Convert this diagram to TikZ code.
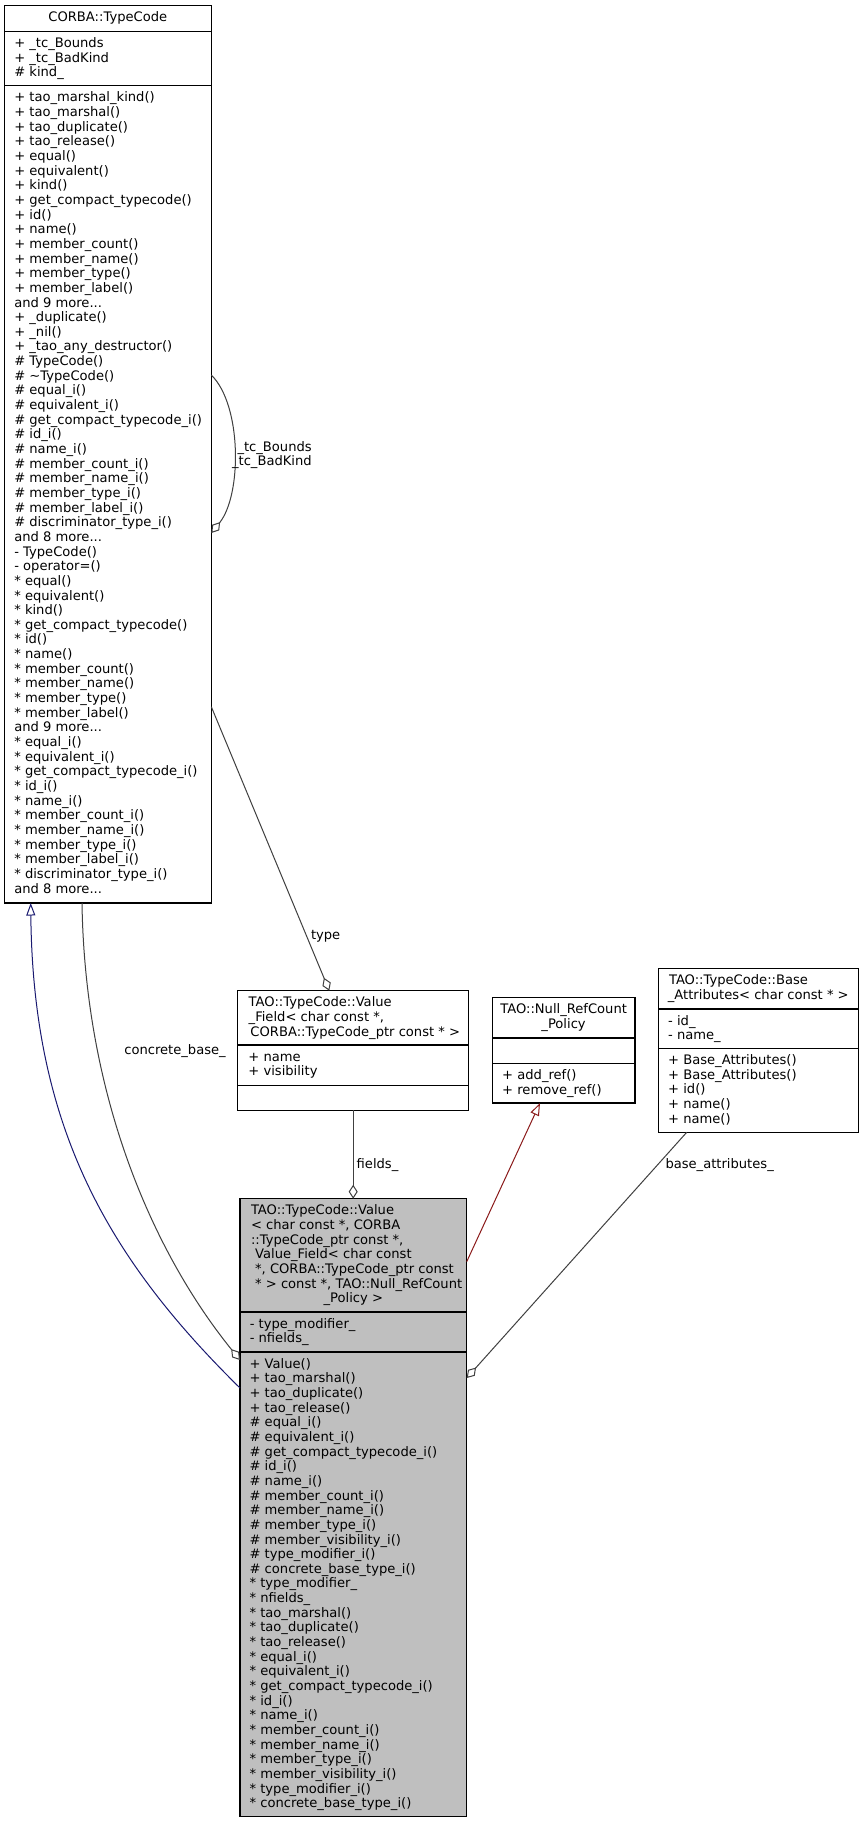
\documentclass[tikz,border=0pt]{standalone}
\usepackage{fontspec}
\setmainfont{DejaVu Sans}
\usetikzlibrary{arrows.meta,calc}
\definecolor{edgegray}{HTML}{404040}
\definecolor{inhblue}{HTML}{191970}
\definecolor{inhred}{HTML}{8B1A1A}
\definecolor{mainfill}{HTML}{BFBFBF}
\begin{document}
\begin{tikzpicture}[x=1pt,y=-1pt,
  cbox/.style={draw=black, line width=1.2pt, rectangle, inner sep=0pt, outer sep=0pt, anchor=north west},
  txt/.style={font=\fontsize{13.1}{14.65}\selectfont, inner sep=0pt, outer sep=0pt},
  lines/.style={txt, align=left, anchor=north west},
  ctext/.style={txt, anchor=base},
  lbl/.style={txt, anchor=base west},
  sepline/.style={draw=black, line width=1.2pt},
  edge/.style={draw=edgegray, line width=1pt},
  agg/.style={edge, -{Diamond[open, length=14pt, width=9pt, line width=1pt]}},
  inh/.style={line width=1pt, -{Triangle[open, length=12.5pt, width=9pt, line width=1pt]}},
]
\fill[white] (0,0) rectangle (863,1824);
\useasboundingbox (0,0) rectangle (863,1824);

% ---------- CORBA::TypeCode ----------
\node[cbox, minimum width=207pt, minimum height=897.3pt] (tc) at (4.3,5.7) {};
\draw[sepline] ([yshift=-25.6pt]tc.north west) -- ([yshift=-25.6pt]tc.north east);
\draw[sepline] ([yshift=-80pt]tc.north west) -- ([yshift=-80pt]tc.north east);
\node[ctext] (tch) at (107.8,21.9) {CORBA::TypeCode};
\node[lines] (tca) at (14.3,37.25) {\strut + \_tc\_Bounds\\+ \_tc\_BadKind\\\# kind\_};
\node[lines] (tcm) at (14.3,91.65) {\strut + tao\_marshal\_kind()\\
+ tao\_marshal()\\
+ tao\_duplicate()\\
+ tao\_release()\\
+ equal()\\
+ equivalent()\\
+ kind()\\
+ get\_compact\_typecode()\\
+ id()\\
+ name()\\
+ member\_count()\\
+ member\_name()\\
+ member\_type()\\
+ member\_label()\\
and 9 more...\\
+ \_duplicate()\\
+ \_nil()\\
+ \_tao\_any\_destructor()\\
\# TypeCode()\\
\# \textasciitilde TypeCode()\\
\# equal\_i()\\
\# equivalent\_i()\\
\# get\_compact\_typecode\_i()\\
\# id\_i()\\
\# name\_i()\\
\# member\_count\_i()\\
\# member\_name\_i()\\
\# member\_type\_i()\\
\# member\_label\_i()\\
\# discriminator\_type\_i()\\
and 8 more...\\
{}- TypeCode()\\
{}- operator=()\\
{}* equal()\\
{}* equivalent()\\
{}* kind()\\
{}* get\_compact\_typecode()\\
{}* id()\\
{}* name()\\
{}* member\_count()\\
{}* member\_name()\\
{}* member\_type()\\
{}* member\_label()\\
and 9 more...\\
{}* equal\_i()\\
{}* equivalent\_i()\\
{}* get\_compact\_typecode\_i()\\
{}* id\_i()\\
{}* name\_i()\\
{}* member\_count\_i()\\
{}* member\_name\_i()\\
{}* member\_type\_i()\\
{}* member\_label\_i()\\
{}* discriminator\_type\_i()\\
and 8 more...};

% ---------- Value_Field ----------
\node[cbox, minimum width=231pt, minimum height=119.6pt] (vf) at (237.7,990.7) {};
\draw[sepline] ([yshift=-54.3pt]vf.north west) -- ([yshift=-54.3pt]vf.north east);
\draw[sepline] ([yshift=-94.6pt]vf.north west) -- ([yshift=-94.6pt]vf.north east);
\node[lines] (vfh) at (248.7,996.65) {\strut TAO::TypeCode::Value\\\_Field< char const *,};
\node[ctext] (vfh3) at (353.2,1036.2) {\ CORBA::TypeCode\_ptr const * >};
\node[lines] (vfa) at (248.4,1050.95) {\strut + name\\+ visibility};

% ---------- Null_RefCount_Policy ----------
\node[cbox, minimum width=142.3pt, minimum height=105.3pt] (nr) at (492.7,997.7) {};
\draw[sepline] ([yshift=-40.3pt]nr.north west) -- ([yshift=-40.3pt]nr.north east);
\draw[sepline] ([yshift=-65.6pt]nr.north west) -- ([yshift=-65.6pt]nr.north east);
\node[ctext] (nrh1) at (563.6,1013.9) {TAO::Null\_RefCount};
\node[ctext] (nrh2) at (563.6,1028.55) {\_Policy};
\node[lines] (nrm) at (502.2,1069.25) {\strut + add\_ref()\\+ remove\_ref()};

% ---------- Base_Attributes ----------
\node[cbox, minimum width=200pt, minimum height=163.6pt] (ba) at (658.3,968.7) {};
\draw[sepline] ([yshift=-40.3pt]ba.north west) -- ([yshift=-40.3pt]ba.north east);
\draw[sepline] ([yshift=-79.6pt]ba.north west) -- ([yshift=-79.6pt]ba.north east);
\node[lines] (bah) at (669,974.65) {\strut TAO::TypeCode::Base};
\node[ctext] (bah2) at (758.3,999.55) {\_Attributes< char const * >};
\node[lines] (baa) at (668.2,1014.95) {\strut - id\_\\{}- name\_};
\node[lines] (bam) at (668.2,1054.25) {\strut + Base\_Attributes()\\+ Base\_Attributes()\\+ id()\\+ name()\\+ name()};

% ---------- main class ----------
\node[cbox, fill=mainfill, minimum width=226.7pt, minimum height=618pt] (mv) at (240,1198.7) {};
\draw[sepline] ([yshift=-113.3pt]mv.north west) -- ([yshift=-113.3pt]mv.north east);
\draw[sepline] ([yshift=-153.3pt]mv.north west) -- ([yshift=-153.3pt]mv.north east);
\node[lines] (mvh) at (251,1204.65) {\strut TAO::TypeCode::Value\\
< char const *, CORBA\\
::TypeCode\_ptr const *,\\
\ Value\_Field< char const\\
\ *, CORBA::TypeCode\_ptr const\\
\ * > const *, TAO::Null\_RefCount};
\node[ctext] (mvh7) at (353.35,1302.8) {\_Policy >};
\node[lines] (mva) at (249.8,1317.95) {\strut - type\_modifier\_\\{}- nfields\_};
\node[lines] (mvm) at (249.6,1357.95) {\strut + Value()\\
+ tao\_marshal()\\
+ tao\_duplicate()\\
+ tao\_release()\\
\# equal\_i()\\
\# equivalent\_i()\\
\# get\_compact\_typecode\_i()\\
\# id\_i()\\
\# name\_i()\\
\# member\_count\_i()\\
\# member\_name\_i()\\
\# member\_type\_i()\\
\# member\_visibility\_i()\\
\# type\_modifier\_i()\\
\# concrete\_base\_type\_i()\\
{}* type\_modifier\_\\
{}* nfields\_\\
{}* tao\_marshal()\\
{}* tao\_duplicate()\\
{}* tao\_release()\\
{}* equal\_i()\\
{}* equivalent\_i()\\
{}* get\_compact\_typecode\_i()\\
{}* id\_i()\\
{}* name\_i()\\
{}* member\_count\_i()\\
{}* member\_name\_i()\\
{}* member\_type\_i()\\
{}* member\_visibility\_i()\\
{}* type\_modifier\_i()\\
{}* concrete\_base\_type\_i()};

% ---------- connectors ----------
\draw[agg] ([yshift=-369.3pt]tc.north east) .. controls (242,405) and (242,495) .. ([yshift=-527.3pt]tc.north east);
\node[txt, align=right, anchor=north east] (loopl) at (311.7,440.95) {\strut \_tc\_Bounds\\\_tc\_BadKind};

\draw[agg] ([yshift=-701pt]tc.north east) -- ([xshift=-23.9pt]vf.north);
\node[lbl] (typel) at (311,939.7) {type};

\draw[agg] (vf.south) -- (vf.south |- mv.north);
\node[lbl] (fieldsl) at (356.7,1168.7) {fields\_};

\draw[inh, draw=inhred] ([yshift=-63pt]mv.north east) -- ([xshift=-23.85pt]nr.south);

\draw[agg] ([xshift=-71.6pt]ba.south) -- ([yshift=-179.3pt]mv.north east);
\node[lbl] (basel) at (665.5,1168.7) {base\_attributes\_};

\draw[inh, draw=inhblue] ([yshift=-189.3pt]mv.north west) .. controls (110,1260) and (33,1130) .. ([xshift=-77.1pt]tc.south);

\draw[agg] ([xshift=-25.8pt]tc.south) .. controls (85,1100) and (155,1255) .. ([yshift=-161.3pt]mv.north west);
\node[lbl] (concl) at (124.3,1054.7) {concrete\_base\_};
\end{tikzpicture}
\end{document}
